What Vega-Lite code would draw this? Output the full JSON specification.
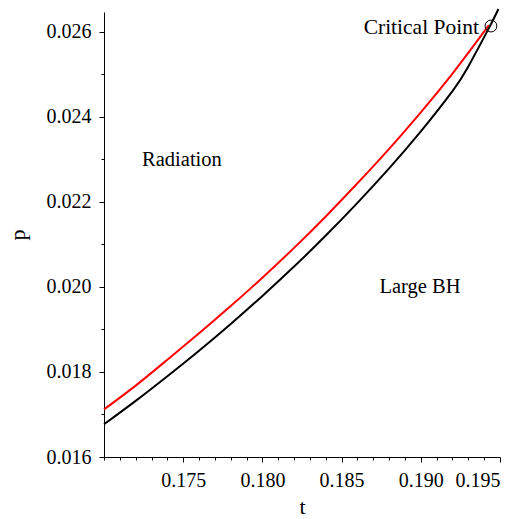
{
  "$schema": "https://vega.github.io/schema/vega-lite/v6.json",
  "width": 396,
  "height": 445,
  "autosize": {"type": "none"},
  "padding": {"left": 104, "top": 12, "right": 26, "bottom": 62},
  "config": {
    "view": {"stroke": null},
    "font": "Liberation Serif",
    "axis": {
      "grid": false,
      "domainColor": "#000000",
      "tickColor": "#000000",
      "labelColor": "#000000",
      "titleColor": "#000000",
      "labelFont": "Liberation Serif",
      "titleFont": "Liberation Serif",
      "titleFontWeight": "normal"
    }
  },
  "datasets": {
    "curves": [
      {"curve": "red", "t": 0.170, "p": 0.01712},
      {"curve": "red", "t": 0.172, "p": 0.01768},
      {"curve": "red", "t": 0.174, "p": 0.01829},
      {"curve": "red", "t": 0.176, "p": 0.01891},
      {"curve": "red", "t": 0.178, "p": 0.01955},
      {"curve": "red", "t": 0.180, "p": 0.02022},
      {"curve": "red", "t": 0.182, "p": 0.02092},
      {"curve": "red", "t": 0.184, "p": 0.02166},
      {"curve": "red", "t": 0.186, "p": 0.02244},
      {"curve": "red", "t": 0.188, "p": 0.02325},
      {"curve": "red", "t": 0.190, "p": 0.02411},
      {"curve": "red", "t": 0.192, "p": 0.02502},
      {"curve": "red", "t": 0.1943, "p": 0.02616},
      {"curve": "black", "t": 0.170, "p": 0.01677},
      {"curve": "black", "t": 0.172, "p": 0.01732},
      {"curve": "black", "t": 0.174, "p": 0.01790},
      {"curve": "black", "t": 0.176, "p": 0.01850},
      {"curve": "black", "t": 0.178, "p": 0.01913},
      {"curve": "black", "t": 0.180, "p": 0.01979},
      {"curve": "black", "t": 0.182, "p": 0.02048},
      {"curve": "black", "t": 0.184, "p": 0.02121},
      {"curve": "black", "t": 0.186, "p": 0.02198},
      {"curve": "black", "t": 0.188, "p": 0.02279},
      {"curve": "black", "t": 0.190, "p": 0.02366},
      {"curve": "black", "t": 0.192, "p": 0.02461},
      {"curve": "black", "t": 0.193, "p": 0.02519},
      {"curve": "black", "t": 0.1943, "p": 0.02609},
      {"curve": "black", "t": 0.1949, "p": 0.02654}
    ],
    "crit": [
      {"t": 0.19443, "p": 0.02614}
    ],
    "notes": [
      {"label": "Radiation", "t": 0.17492, "p": 0.02299},
      {"label": "Large BH", "t": 0.18995, "p": 0.0200}
    ],
    "critlabel": [
      {"label": "Critical Point", "t": 0.19003, "p": 0.02609}
    ]
  },
  "layer": [
    {
      "data": {"name": "curves"},
      "mark": {"type": "line", "strokeWidth": 2, "interpolate": "natural", "clip": false},
      "encoding": {
        "x": {
          "field": "t", "type": "quantitative",
          "scale": {"domain": [0.170, 0.195], "nice": false, "zero": false},
          "axis": {
            "orient": "bottom",
            "values": [0.175, 0.180, 0.185, 0.190, 0.195],
            "format": ".3f",
            "tickSize": 5,
            "labelFont": "Liberation Serif",
            "labelFontSize": 20,
            "labelPadding": 8,
            "title": "t",
            "titleFont": "Liberation Serif",
            "titleFontSize": 22,
            "titlePadding": 6
          }
        },
        "y": {
          "field": "p", "type": "quantitative",
          "scale": {"domain": [0.016, 0.02647], "nice": false, "zero": false},
          "axis": {
            "orient": "left",
            "values": [0.016, 0.018, 0.020, 0.022, 0.024, 0.026],
            "format": ".3f",
            "tickSize": 5,
            "labelFont": "Liberation Serif",
            "labelFontSize": 20,
            "labelPadding": 8,
            "title": "p",
            "titleFont": "Liberation Serif",
            "titleFontSize": 22,
            "titlePadding": 17
          }
        },
        "color": {
          "field": "curve", "type": "nominal",
          "scale": {"domain": ["red", "black"], "range": ["#ff0000", "#000000"]},
          "legend": null
        }
      }
    },
    {
      "data": {"name": "crit"},
      "mark": {"type": "point", "shape": "circle", "size": 140, "filled": false, "stroke": "#000000", "strokeWidth": 1, "opacity": 1},
      "encoding": {
        "x": {
          "field": "t", "type": "quantitative",
          "axis": {
            "orient": "bottom",
            "values": [0.170, 0.171, 0.172, 0.173, 0.174, 0.176, 0.177, 0.178, 0.179, 0.181, 0.182, 0.183, 0.184, 0.186, 0.187, 0.188, 0.189, 0.191, 0.192, 0.193, 0.194],
            "labels": false,
            "domain": false,
            "tickSize": 3,
            "title": null
          }
        },
        "y": {
          "field": "p", "type": "quantitative",
          "axis": {
            "orient": "left",
            "values": [0.017, 0.019, 0.021, 0.023, 0.025],
            "labels": false,
            "domain": false,
            "tickSize": 3,
            "title": null
          }
        }
      }
    },
    {
      "data": {"name": "notes"},
      "mark": {"type": "text", "font": "Liberation Serif", "fontSize": 20.5, "baseline": "middle", "align": "center", "color": "#000000"},
      "encoding": {
        "x": {"field": "t", "type": "quantitative", "axis": null},
        "y": {"field": "p", "type": "quantitative", "axis": null},
        "text": {"field": "label", "type": "nominal"}
      }
    },
    {
      "data": {"name": "critlabel"},
      "mark": {"type": "text", "font": "Liberation Serif", "fontSize": 21.5, "baseline": "middle", "align": "center", "color": "#000000"},
      "encoding": {
        "x": {"field": "t", "type": "quantitative", "axis": null},
        "y": {"field": "p", "type": "quantitative", "axis": null},
        "text": {"field": "label", "type": "nominal"}
      }
    }
  ],
  "resolve": {"axis": {"x": "independent", "y": "independent"}}
}
